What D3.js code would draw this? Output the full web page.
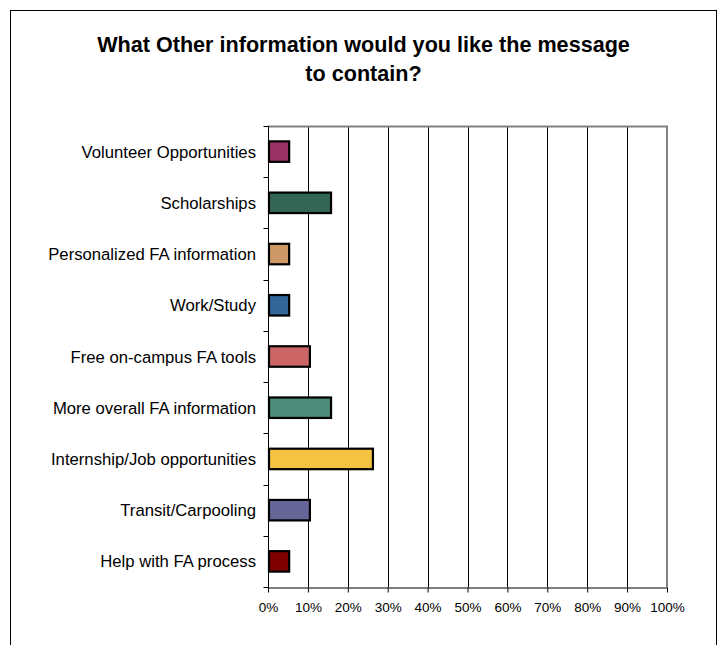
<!DOCTYPE html>
<html>
<head>
<meta charset="utf-8">
<script src="https://cdn.jsdelivr.net/npm/d3@7"></script>
<style>
  html, body { margin: 0; padding: 0; background: #fff; }
  svg { display: block; font-family: Arial, "Liberation Sans", sans-serif; }
</style>
</head>
<body>
<svg id="chart" width="720" height="645"></svg>
<script>
// Survey answers, top to bottom
const categories = [
  "Volunteer Opportunities",
  "Scholarships",
  "Personalized FA information",
  "Work/Study",
  "Free on-campus FA tools",
  "More overall FA information",
  "Internship/Job opportunities",
  "Transit/Carpooling",
  "Help with FA process"
];
// Share of respondents (%)
const values = [5.3, 15.8, 5.3, 5.3, 10.5, 15.8, 26.3, 10.5, 5.3];
const barColors = ["#993366", "#336655", "#CC9966", "#336699", "#CC6666",
                   "#4C8A7A", "#F5C342", "#666699", "#800000"];
const tickValues = [0, 10, 20, 30, 40, 50, 60, 70, 80, 90, 100];
const titleLines = ["What Other information would you like the message", "to contain?"];

const svg = d3.select("#chart");

// Outer frame
svg.append("rect")
  .attr("x", 10.5).attr("y", 10.5)
  .attr("width", 706).attr("height", 650)
  .attr("fill", "none").attr("stroke", "#000").attr("stroke-width", 1);

// Title
svg.append("g").selectAll("text")
  .data(titleLines).join("text")
  .attr("x", 363.5).attr("y", (d, i) => 52 + i * 29)
  .attr("text-anchor", "middle")
  .attr("font-size", 21.6).attr("font-weight", "bold")
  .text(d => d);

const plotLeft = 268, plotRight = 667, plotTop = 126, plotBottom = 587;

const x = d3.scaleLinear().domain([0, 100]).range([plotLeft, plotRight]);
const y = d3.scaleBand().domain(categories).range([plotTop, plotBottom])
  .paddingInner(0.6).paddingOuter(0.3);
const yEdges = d3.scaleLinear().domain([0, categories.length]).range([plotTop, plotBottom]);

// Vertical gridlines
svg.append("g").selectAll("line")
  .data(tickValues.slice(1, -1)).join("line")
  .attr("x1", d => Math.round(x(d)) + 0.5).attr("x2", d => Math.round(x(d)) + 0.5)
  .attr("y1", plotTop).attr("y2", plotBottom)
  .attr("stroke", "#000").attr("stroke-width", 1);

// Plot area top and right border
svg.append("path")
  .attr("d", `M${plotLeft},${plotTop + 0.5} H${plotRight} V${plotBottom}`)
  .attr("fill", "none").attr("stroke", "#808080").attr("stroke-width", 2);

// Bars
svg.append("g").selectAll("rect")
  .data(values).join("rect")
  .attr("x", x(0) + 1)
  .attr("y", (d, i) => y(categories[i]))
  .attr("width", d => x(d) - x(0) - 1)
  .attr("height", y.bandwidth())
  .attr("fill", (d, i) => barColors[i])
  .attr("stroke", "#000").attr("stroke-width", 2.2);

// Bottom axis
const xAxis = svg.append("g")
  .attr("transform", `translate(0,${plotBottom + 0.5})`)
  .call(d3.axisBottom(x).tickValues(tickValues).tickFormat(d => d + "%").tickSize(5).tickSizeOuter(0));
xAxis.select(".domain").attr("stroke", "#000");
xAxis.selectAll(".tick line").attr("stroke", "#000");
xAxis.selectAll(".tick text")
  .attr("font-family", "Arial, 'Liberation Sans', sans-serif")
  .attr("font-size", 13.5).attr("fill", "#000")
  .attr("y", 8).attr("dy", "1.2em");

// Left axis with ticks between categories
const yAxisG = svg.append("g").attr("transform", `translate(${plotLeft + 0.5},0)`);
yAxisG.append("line")
  .attr("y1", plotTop).attr("y2", plotBottom + 5)
  .attr("stroke", "#000");
yAxisG.selectAll("line.tk")
  .data(d3.range(categories.length + 1)).join("line")
  .attr("class", "tk")
  .attr("x1", -5).attr("x2", 0)
  .attr("y1", d => Math.round(yEdges(d)) + 0.5).attr("y2", d => Math.round(yEdges(d)) + 0.5)
  .attr("stroke", "#000");

// Category labels
svg.append("g").selectAll("text")
  .data(categories).join("text")
  .attr("x", 256)
  .attr("y", d => y(d) + y.bandwidth() / 2)
  .attr("dy", "0.36em")
  .attr("text-anchor", "end")
  .attr("font-size", 16.7)
  .text(d => d);
</script>
</body>
</html>
